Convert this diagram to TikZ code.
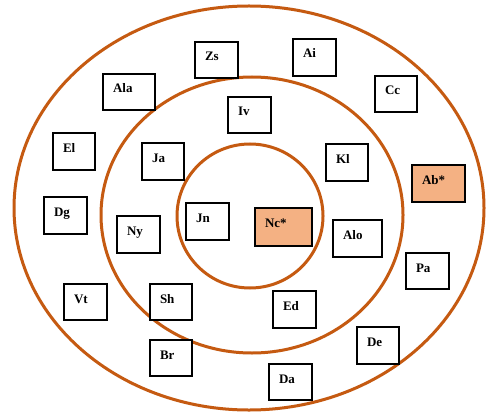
\documentclass[tikz,border=0pt]{standalone}
\usepackage{fontspec}
\setmainfont{Liberation Serif}
\definecolor{ring}{HTML}{C55A11}
\definecolor{hl}{HTML}{F4B183}
\tikzset{
  ringst/.style={draw=ring, line width=3pt},
  boxst/.style={draw=black, line width=1.2pt, anchor=north west, inner xsep=10pt, inner ysep=0pt,
    text height=19pt, align=left, font=\fontsize{13}{15}\selectfont\bfseries, outer sep=0pt}
}
\newcommand{\bx}[7][white]{%
  \pgfmathsetmacro\bw{#5-#3-20}%
  \pgfmathsetmacro\bd{#6-#4-19}%
  \node[boxst, fill=#1, text width=\bw pt, text depth=\bd pt] (#2) at (#3,#4) {#7};%
}
\begin{document}
\begin{tikzpicture}[x=1pt,y=-1pt]
\useasboundingbox (0,0) rectangle (486,414);
\fill[white] (0,0) rectangle (486,414);
\draw[ringst] (249,208) ellipse [x radius=235, y radius=202];
\draw[ringst] (252,215) ellipse [x radius=151, y radius=138];
\draw[ringst] (250,216) ellipse [x radius=73, y radius=72];
\bx{zs}{195}{42}{238}{78}{Zs}
\bx{ai}{293}{39}{336}{76}{Ai}
\bx{ala}{103}{74}{155}{110}{Ala}
\bx{cc}{375}{76}{417}{112}{Cc}
\bx{iv}{228}{97}{271}{133}{Iv}
\bx{el}{53}{133}{95}{170}{El}
\bx{ja}{142}{143}{184}{180}{Ja}
\bx{kl}{326}{144}{368}{181}{Kl}
\bx[hl]{ab}{412}{165}{465}{202}{Ab*}
\bx{dg}{44}{197}{87}{234}{Dg}
\bx{jn}{186}{203}{229}{240}{Jn}
\bx[hl]{nc}{255}{208}{312}{246}{Nc*}
\bx{ny}{117}{216}{160}{253}{Ny}
\bx{alo}{333}{220}{382}{257}{Alo}
\bx{pa}{406}{253}{449}{289}{Pa}
\bx{vt}{64}{284}{107}{320}{Vt}
\bx{sh}{150}{284}{192}{320}{Sh}
\bx{ed}{273}{291}{316}{328}{Ed}
\bx{de}{357}{327}{399}{364}{De}
\bx{br}{150}{340}{192}{376}{Br}
\bx{da}{269}{364}{312}{400}{Da}
\end{tikzpicture}
\end{document}
